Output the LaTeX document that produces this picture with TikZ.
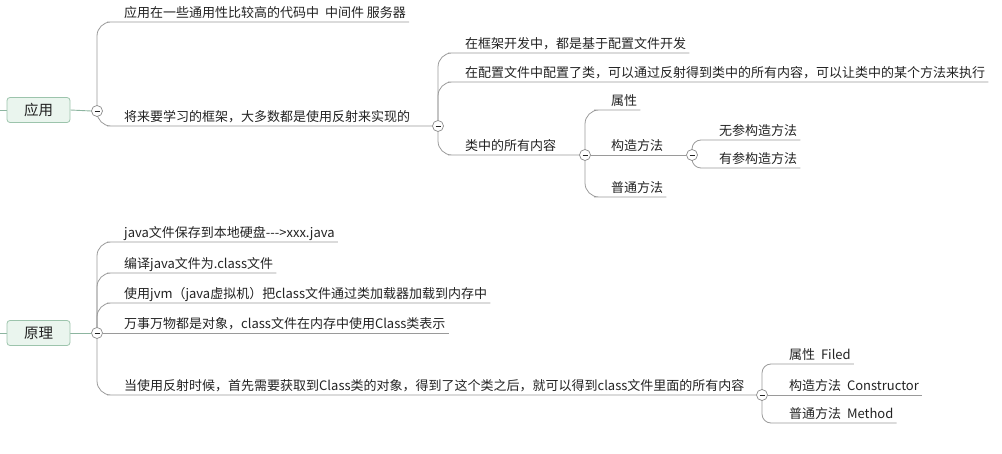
\documentclass[tikz,border=0pt]{standalone}
\usepackage{fontspec}
\usetikzlibrary{backgrounds}
\setmainfont{Noto Sans CJK SC}
\definecolor{txt}{HTML}{222222}
\definecolor{rootb}{HTML}{9CC4AC}
\definecolor{rootf}{HTML}{EAF5EE}
\definecolor{rootl}{HTML}{8DB5A0}
\definecolor{linec}{HTML}{9A9A9A}
\definecolor{foldc}{HTML}{8A8A8A}
\begin{document}
\begin{tikzpicture}[x=1pt,y=-1pt,
  topic/.style={anchor=south west, inner xsep=3pt, inner ysep=1pt, text height=10pt, text depth=3pt, font=\fontsize{13}{15}\selectfont, text=txt},
  rootbox/.style={draw=rootb, fill=rootf, rounded corners=3pt, minimum width=63pt, minimum height=25pt, font=\fontsize{14.5}{16}\selectfont, text=txt, line width=0.8pt},
  fold/.style={circle, draw=foldc, fill=white, minimum size=11pt, inner sep=0pt, line width=0.7pt,
    path picture={\draw[txt, line width=0.9pt] ([xshift=-2.5pt]path picture bounding box.center) -- ([xshift=2.5pt]path picture bounding box.center);}},
  branch/.style={draw=linec, line width=0.8pt, rounded corners=14pt},
  sbranch/.style={draw=linec, line width=0.8pt, rounded corners=9pt},
  uline/.style={draw=linec, line width=0.8pt},
  rootline/.style={draw=rootl, line width=0.9pt}]
\useasboundingbox (0,0) rectangle (1002,454);

% ---------- 应用 ----------
\node[rootbox] (r1) at (38.5,110) {应用};
\coordinate (L1) at (0,110);
\node[fold] (c1) at (97,111) {};
\node[topic] (t11) at (121,22) {应用在一些通用性比较高的代码中\ \ 中间件 服务器};
\node[topic] (t12) at (121,126) {将来要学习的框架，大多数都是使用反射来实现的};
\node[fold] (c2) at (438,126) {};
\node[topic] (t21) at (462,53) {在框架开发中，都是基于配置文件开发};
\node[topic] (t22) at (462,82) {在配置文件中配置了类，可以通过反射得到类中的所有内容，可以让类中的某个方法来执行};
\node[topic] (t23) at (462,155) {类中的所有内容};
\node[fold] (c3) at (585,155) {};
\node[topic] (t31) at (608,110) {属性};
\node[topic] (t32) at (608,155) {构造方法};
\node[topic] (t33) at (608,197) {普通方法};
\node[fold] (c4) at (692,155) {};
\node[topic] (t41) at (716,140) {无参构造方法};
\node[topic] (t42) at (716,168) {有参构造方法};

% ---------- 原理 ----------
\node[rootbox] (r2) at (38.5,333) {原理};
\coordinate (L2) at (0,333);
\node[fold] (c5) at (97,333) {};
\node[topic] (t51) at (121,242) {java文件保存到本地硬盘-\kern0pt-\kern0pt-\kern0pt>xxx.java};
\node[topic] (t52) at (121,273) {编译java文件为.class文件};
\node[topic] (t53) at (121,303) {使用jvm（java虚拟机）把class文件通过类加载器加载到内存中};
\node[topic] (t54) at (121,333) {万事万物都是对象，class文件在内存中使用Class类表示};
\node[topic] (t55) at (121,395) {当使用反射时候，首先需要获取到Class类的对象，得到了这个类之后，就可以得到class文件里面的所有内容};
\node[fold] (c6) at (762,395) {};
\node[topic] (t61) at (786,364) {属性\ \ Filed};
\node[topic] (t62) at (786,395) {构造方法\ \ Constructor};
\node[topic] (t63) at (786,423) {普通方法\ \ Method};

\begin{pgfonlayer}{background}
\draw[rootline] (L1) -- (r1.west);
\draw[rootline] (r1.east) -- (c1.west);
\draw[branch] (c1.north) |- (t11.south west) -- (t11.south east);
\draw[branch] (c1.south) |- (t12.south west) -- (c2.west);
\draw[branch] (c2.north) |- (t21.south west) -- (t21.south east);
\draw[branch] (c2.north) |- (t22.south west) -- (t22.south east);
\draw[branch] (c2.south) |- (t23.south west) -- (c3.west);
\draw[branch] (c3.north) |- (t31.south west) -- (t31.south east);
\draw[uline] (c3.east) -- (c4.west);
\draw[branch] (c3.south) |- (t33.south west) -- (t33.south east);
\draw[sbranch] (c4.center) |- (t41.south west) -- (t41.south east);
\draw[sbranch] (c4.center) |- (t42.south west) -- (t42.south east);

\draw[rootline] (L2) -- (r2.west);
\draw[rootline] (r2.east) -- (c5.west);
\draw[branch] (c5.north) |- (t51.south west) -- (t51.south east);
\draw[branch] (c5.north) |- (t52.south west) -- (t52.south east);
\draw[branch] (c5.north) |- (t53.south west) -- (t53.south east);
\draw[uline] (c5.east) -- (t54.south east);
\draw[branch] (c5.south) |- (t55.south west) -- (c6.west);
\draw[sbranch] (c6.center) |- (t61.south west) -- (t61.south east);
\draw[uline] (c6.east) -- (t62.south east);
\draw[sbranch] (c6.center) |- (t63.south west) -- (t63.south east);
\end{pgfonlayer}
\end{tikzpicture}
\end{document}
